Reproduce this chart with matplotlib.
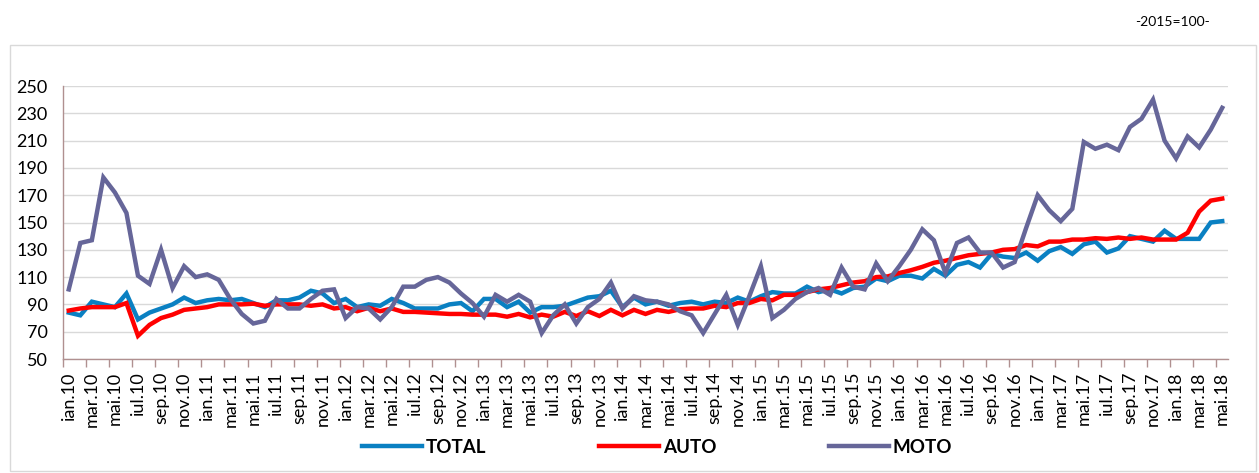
import matplotlib
matplotlib.use("Agg")
import matplotlib.pyplot as plt
from matplotlib.patches import Rectangle

plt.rcParams['font.family'] = ['Lato', 'DejaVu Sans']

months = ['ian', 'feb', 'mar', 'apr', 'mai', 'iun', 'iul', 'aug', 'sep', 'oct', 'nov', 'dec']
years = ['10', '11', '12', '13', '14', '15', '16', '17', '18']
categories = [f"{m}.{y}" for y in years for m in months][:101]

total = [84, 82, 92, 90, 88, 98, 79, 84, 87, 90, 95, 91,
         93, 94, 93, 94, 91, 88, 93, 93, 95, 100, 98, 91,
         94, 88, 90, 89, 94, 91, 87, 87, 87, 90, 91, 85,
         94, 94, 88, 92, 84, 88, 88, 89, 92, 95, 96, 100,
         88, 95, 90, 92, 89, 91, 92, 90, 92, 91, 95, 92,
         96, 99, 98, 98, 103, 99, 101, 98, 102, 103, 109, 107,
         111, 111, 109, 116, 111, 119, 121, 117, 127, 125, 124, 128,
         122, 129, 132, 127, 134, 136, 128, 131, 140, 138, 136, 144,
         138, 138, 138, 150, 151]

auto = [85.5, 87, 88, 88, 88, 91, 67, 75, 80, 82.5, 86, 87,
        88, 90, 90, 90, 90.5, 89, 90, 90, 90, 89, 90, 87,
        88, 85, 87.5, 85, 87, 84.5, 84.5, 84, 83.5, 83, 83, 82.5,
        82.5, 82.5, 81, 83, 80.5, 82.5, 81, 84.5, 81.5, 85, 81.5, 86,
        82, 86, 83, 86, 84.5, 86.5, 87, 87, 89, 88, 91, 91,
        94, 93, 97, 97, 99, 101, 102, 104, 106, 107, 110, 110.5,
        113, 115, 117.5, 120.5, 122, 124, 126, 127, 128, 130, 130.5, 133.5,
        132.5, 136, 136, 137.5, 137.5, 138.5, 138, 139, 138, 139, 137.5, 137.5,
        137.5, 142.5, 158, 166, 167.5]

moto = [101, 135, 137, 183, 172, 157, 111, 105, 130, 102, 118, 110,
        112, 108, 94, 83, 76, 78, 94, 87, 87, 94, 100, 101,
        80, 88, 87, 79, 88, 103, 103, 108, 110, 106, 98, 91,
        81, 97, 92, 97, 92, 69, 82, 90, 76, 88, 94, 106,
        87, 96, 93, 92, 90, 85, 82, 69, 83, 97, 75, 96,
        118, 80, 86, 94, 99, 102, 97, 117, 103, 101, 120, 107,
        118, 130, 145, 137, 113, 135, 139, 128, 128, 117, 121, 146,
        170, 159, 151, 160, 209, 204, 207, 203, 220, 226, 240, 210,
        197, 213, 205, 218, 234]

series_names = ['TOTAL', 'AUTO', 'MOTO']
series_colors = ['#0A80C2', '#FF0000', '#666699']

W, H = 1259, 473
fig = plt.figure(figsize=(W / 100, H / 100), dpi=100)

# outer chart-area border
fig.patches.append(Rectangle((10 / W, 2 / H), (1256 - 10) / W, (471 - 45) / H,
                             transform=fig.transFigure, fill=False,
                             edgecolor='#d9d9d9', linewidth=1))

ax = fig.add_axes([63 / W, (H - 359) / H, (1228 - 63) / W, (359 - 86) / H])
x = list(range(len(categories)))
for vals, name, col in zip([total, auto, moto], series_names, series_colors):
    ax.plot(x, vals, color=col, linewidth=3.2, label=name, solid_joinstyle='miter')

ax.set_xlim(-0.5, len(categories) - 0.5)
ax.set_ylim(50, 250)
ax.set_yticks(range(50, 251, 20))
ax.grid(axis='y', color='#d9d9d9', linewidth=1)
ax.set_axisbelow(True)

ax.set_xticks(x[::2])
ax.set_xticklabels(categories[::2], rotation=90, fontsize=13)
ax.set_xticks([i - 0.5 for i in range(0, len(categories), 2)], minor=True)
ax.tick_params(axis='x', which='major', length=0, pad=9)
ax.tick_params(axis='x', which='minor', length=6, color='#b09090', width=1)
ax.tick_params(axis='y', length=0, pad=11, labelsize=13)

for s in ['top', 'right']:
    ax.spines[s].set_visible(False)
for s in ['left', 'bottom']:
    ax.spines[s].set_color('#b09090')
    ax.spines[s].set_linewidth(1)

leg = fig.legend(loc='center', bbox_to_anchor=(657 / W, 26 / H), ncol=3,
                 frameon=False, handlelength=3.2, handletextpad=0.2,
                 columnspacing=6.0, prop={'weight': 'bold', 'size': 13.5})

fig.text(1172 / W, 1 - 22 / H, '-2015=100-', ha='center', va='center', fontsize=10)

fig.savefig('out.png', dpi=100)
